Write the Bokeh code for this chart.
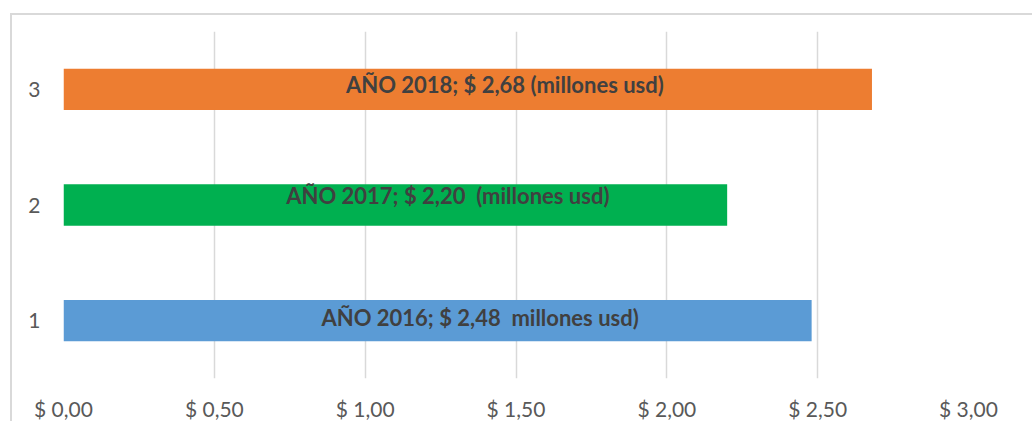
from bokeh.plotting import figure
from bokeh.models import ColumnDataSource, FixedTicker, Range1d
from bokeh.core.properties import value
from bokeh.embed import file_html
from bokeh.resources import INLINE

# ---- data ----
categories = [1, 2, 3]
amounts = [2.48, 2.20, 2.68]
bar_labels = [
    "AÑO 2016; $ 2,48 \u00a0millones usd)",
    "AÑO 2017; $ 2,20 \u00a0(millones usd)",
    "AÑO 2018; $ 2,68 (millones usd)",
]
bar_colors = ["#5B9BD5", "#00B050", "#ED7D31"]
x_ticks = [0, 0.5, 1.0, 1.5, 2.0, 2.5, 3.0]
x_tick_labels = ["$ 0,00", "$ 0,50", "$ 1,00", "$ 1,50", "$ 2,00", "$ 2,50", "$ 3,00"]
y_tick_labels = ["1", "2", "3"]

# ---- label placement (manual positions as in the original) ----
label_x = [1.381, 1.274, 1.463]
label_dy = [3, 10, 5]  # pixels above bar centre

FONT = "Lato"

p = figure(
    width=1022, height=408,
    x_range=Range1d(0, 3), y_range=Range1d(0.5, 3.5),
    output_backend="svg", toolbar_location=None,
    min_border_left=51, min_border_right=66,
    min_border_top=16, min_border_bottom=40,
    margin=(13, 0, 0, 10),
    styles={"border-top": "2px solid #d9d9d9", "border-left": "2px solid #d9d9d9"},
)
p.outline_line_color = None
p.background_fill_color = "white"
p.border_fill_color = "white"

bars = ColumnDataSource(dict(y=categories, right=amounts, color=bar_colors))
p.hbar(y="y", left=0, right="right", height=0.358, fill_color="color",
       line_color=None, source=bars)

labels = ColumnDataSource(dict(x=label_x, y=categories, text=bar_labels,
                               yoff=[-d for d in label_dy]))
p.text(x="x", y="y", text="text", y_offset="yoff", source=labels,
       text_font=value(FONT), text_font_size="22px", text_font_style="bold",
       text_color="#404040", text_align="center", text_baseline="middle")

# grid
p.ygrid.grid_line_color = None
p.xgrid.grid_line_color = "#d9d9d9"
p.xgrid.grid_line_width = 1.5
p.xgrid.ticker = FixedTicker(ticks=x_ticks)

# x axis
xa = p.xaxis[0]
xa.ticker = FixedTicker(ticks=x_ticks)
xa.major_label_overrides = {t: l for t, l in zip(x_ticks, x_tick_labels)}
xa.axis_line_color = None
xa.major_tick_line_color = None
xa.minor_tick_line_color = None
xa.major_tick_out = 0
xa.major_label_standoff = 17
xa.major_label_text_font = FONT
xa.major_label_text_font_size = "21px"
xa.major_label_text_color = "#595959"

# y axis
ya = p.yaxis[0]
ya.ticker = FixedTicker(ticks=categories)
ya.major_label_overrides = {c: l for c, l in zip(categories, y_tick_labels)}
ya.axis_line_color = None
ya.major_tick_line_color = None
ya.minor_tick_line_color = None
ya.major_tick_out = 0
ya.major_label_standoff = 23
ya.major_label_text_font = FONT
ya.major_label_text_font_size = "21px"
ya.major_label_text_color = "#595959"

open("out.html", "w").write(file_html(p, INLINE))
